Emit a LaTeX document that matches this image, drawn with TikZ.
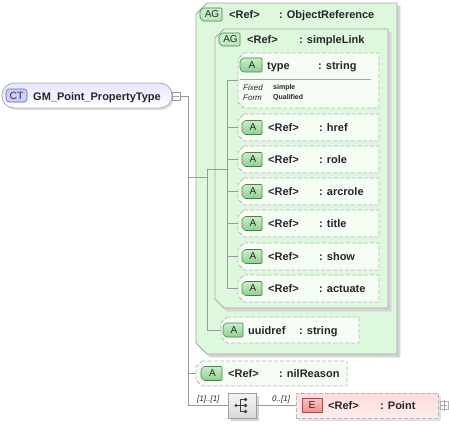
\documentclass[tikz,border=0pt]{standalone}
\usepackage{fontspec}
\setmainfont{Liberation Sans}
\usetikzlibrary{calc}
\definecolor{grpfill}{HTML}{DDF8DD}
\definecolor{grpdraw}{HTML}{A8A8A8}
\definecolor{shd}{HTML}{D4D4D4}
\definecolor{attfill}{HTML}{F4FCF4}
\definecolor{attdraw}{HTML}{B8B8B8}
\definecolor{atag1}{HTML}{C8F0C8}
\definecolor{atag2}{HTML}{90D090}
\definecolor{atagd}{HTML}{4E7E4E}
\definecolor{etag1}{HTML}{F8C0C0}
\definecolor{etag2}{HTML}{EC9090}
\definecolor{etagd}{HTML}{A05050}
\definecolor{conncol}{HTML}{9A9A9A}
\newcommand\chpath[6]{%
  \path[#6] ({#1+#5},#2) -- (#3,#2) -- (#3,#4) -- ({#1+#5},#4) -- (#1,{#4-#5}) -- (#1,{#2+#5}) -- cycle;}
\newcommand\chbox[7]{%
  \chpath{#2}{#3}{#4}{#5}{#6}{#7}%
  \node[inner sep=0pt,minimum width={(#4-#2)*1pt},minimum height={(#5-#3)*1pt}] (#1) at ({(#2+#4)/2},{(#3+#5)/2}) {};}
\newcommand\tagbox[7]{%
  \chpath{#2}{#3}{#4}{#5}{3}{#7,rounded corners=1pt}%
  \node[font=\fontsize{10}{11}\selectfont,inner sep=0pt,text=black!85] (#1) at ({(#2+#4)/2+1},{(#3+#5)/2}) {#6};}
\tikzset{
  grp/.style={fill=grpfill,draw=grpdraw,line width=0.8pt},
  grpshadow/.style={fill=shd,draw=shd,line width=0.8pt},
  att/.style={fill=attfill,draw=attdraw,dash pattern=on 4pt off 2pt,line width=0.8pt},
  atag/.style={top color=atag1,bottom color=atag2,draw=atagd,line width=0.6pt},
  agtag/.style={top color=atag1,bottom color=atag1!80!atag2,draw=atagd,line width=0.6pt},
  conn/.style={draw=conncol,line width=0.7pt},
  txt/.style={anchor=base west,inner sep=0pt,font=\fontsize{11}{13}\selectfont\bfseries,text=black!85},
  small/.style={anchor=base west,inner sep=0pt,text=black!85},
  card/.style={anchor=base west,inner sep=0pt,font=\fontsize{8}{9}\selectfont\itshape,text=black!85},
}
\begin{document}
\begin{tikzpicture}[x=1pt,y=-1pt]
\useasboundingbox (0,0) rectangle (449,423);
% ---------- outer group ObjectReference
\chpath{199}{6}{400}{357}{11}{grpshadow}
\chbox{outer}{196}{3}{397}{354}{11}{grp}
\tagbox{agouter}{200}{8}{222}{21}{AG}{agtag}
\node[txt] (outerref) at (229,18) {<Ref>};
\node[txt] (outername) at (279,18) {: ObjectReference};
% ---------- inner group simpleLink
\chpath{218}{32}{391}{311}{9}{grpshadow}
\chbox{inner}{215}{29}{388}{308}{9}{grp}
\tagbox{aginner}{219}{33}{240}{46}{AG}{agtag}
\node[txt] (innerref) at (247,43.5) {<Ref>};
\node[txt] (innername) at (299,43.5) {: simpleLink};
% ---------- connectors
\node[draw=conncol,fill=white,minimum size=8pt,inner sep=0pt,line width=0.6pt] (ctm) at (176,96) {};
\coordinate (sp0) at (188,96);
\coordinate (og) at (207,177);
\coordinate (os) at (207,169);
\coordinate (is) at (227,169);
\coordinate (itop) at (227,80.5);
% ---------- type attribute
\chbox{type}{238}{53}{379}{108}{6}{att}
\tagbox{atype}{240}{58}{262}{72}{A}{atag}
\node[txt] (typename) at (267,69) {type};
\node[txt] (typetype) at (318,69) {: string};
\draw[draw=gray!70,line width=0.6pt] (240,79) -- (371,79);
\node[small,font=\fontsize{8}{9}\selectfont\itshape] (fixed) at (243,90) {Fixed};
\node[small,font=\fontsize{8}{9}\selectfont\itshape] (form) at (243,100) {Form};
\node[small,font=\fontsize{7}{8}\selectfont\bfseries] (simple) at (273,89.5) {simple};
\node[small,font=\fontsize{7}{8}\selectfont\bfseries] (qual) at (273,99) {Qualified};
% ---------- attributes
\foreach \n/\y in {href/114,role/146,arcrole/178,title/210,show/243,actuate/275}{
  \chbox{\n}{238}{\y}{379}{\y+27}{6}{att}
  \tagbox{a\n}{242}{\y+6.5}{262}{\y+20.5}{A}{atag}
  \node[txt] (r\n) at (268,\y+17.5) {<Ref>};
  \node[txt] (t\n) at (319,\y+17.5) {: \n};
}
% ---------- uuidref
\chbox{uuid}{221}{317}{359}{343}{6}{att}
\tagbox{auuid}{223}{323}{243}{337}{A}{atag}
\node[txt] (uuidname) at (248,334) {uuidref};
\node[txt] (uuidtype) at (299,334) {: string};
% ---------- nilReason
\chbox{nil}{196}{361}{347}{386}{6}{att}
\tagbox{anil}{201}{366.5}{222}{380.5}{A}{atag}
\node[txt] (nilref) at (228,377.5) {<Ref>};
\node[txt] (nilname) at (279,377.5) {: nilReason};
% ---------- sequence compositor
\fill[shd] (230.5,395.5) rectangle (258.5,420.5);
\node[draw=gray!75,top color=gray!8,bottom color=gray!30,minimum width=28pt,minimum height=25pt,inner sep=0pt,line width=0.6pt] (seq) at (242,405.5) {};
\draw[black!75,line width=0.8pt] (236,405.5) -- (240,405.5) (240,399.5) -- (240,411.5)
  (240,399.5) -- (245,399.5) (240,405.5) -- (245,405.5) (240,411.5) -- (245,411.5);
\fill[black!75] (236,405.5) circle (1.6) (245.5,399.5) circle (1.8) (245.5,405.5) circle (1.8) (245.5,411.5) circle (1.8);
% ---------- element Point
\fill[shd!70] (298.5,395.5) rectangle (440.5,420.5);
\node[draw=gray!55,dash pattern=on 4pt off 2pt,top color=red!14,bottom color=red!7,minimum width=142pt,minimum height=25pt,inner sep=0pt,line width=0.8pt] (E) at (367,405.5) {};
\draw[etagd,line width=0.6pt,top color=etag1,bottom color=etag2] (302,398.5) rectangle (322,412.5);
\node[font=\fontsize{10}{11}\selectfont,inner sep=0pt,text=black!85] (etag) at (312,405.5) {E};
\node[txt] (eref) at (328,409.5) {<Ref>};
\node[txt] (ename) at (380,409.5) {: Point};
\node[draw=gray!60,fill=white,minimum size=8pt,inner sep=0pt,line width=0.5pt] (plus) at (444,405.5) {};
\draw[gray!70,line width=0.5pt] ($(plus.west)+(1.5,0)$) -- ($(plus.east)+(-1.5,0)$) ($(plus.north)+(0,-1.5)$) -- ($(plus.south)+(0,1.5)$);
% ---------- connector lines
\draw[conn] (ctm.east) -- (sp0) -- (sp0 |- seq.west) -- (seq.west);
\draw[conn] (sp0 |- nil.west) -- (nil.west);
\draw[conn] (sp0 |- og) -- (og);
\draw[conn] (os) -- (is);
\draw[conn] (os) |- (uuid.west);
\draw[conn] (itop) -- (itop |- actuate.west);
\foreach \n in {type,href,role,arcrole,title,show,actuate}{
  \draw[conn] (itop |- \n.west) -- (\n.west);
}
\draw[conn] (seq.east) -- (E.west);
\node[card] (c1) at (197,401) {[1]..[1]};
\node[card] (c2) at (272,401) {0..[1]};
% ---------- complex type
\fill[shd!70] (4,85) [rounded corners=12pt] rectangle (174,110);
\node[draw=gray!65,top color=blue!10,bottom color=white,rounded corners=12pt,minimum width=170pt,minimum height=25pt,inner sep=0pt,line width=0.8pt] (ct) at (87,95.5) {};
\draw[draw=blue!40!black!60,fill=blue!20,rounded corners=3pt,line width=0.6pt] (6,89) rectangle (27,102);
\node[font=\fontsize{10.5}{11}\selectfont,inner sep=0pt,text=black!80] (cttag) at (16.5,95.5) {CT};
\node[txt] (ctname) at (33,100) {GM\_Point\_PropertyType};
\node[draw=conncol,fill=white,minimum size=8pt,inner sep=0pt,line width=0.6pt] (ctm2) at (176,96) {};
\draw[gray!70,line width=0.5pt] ($(ctm2.west)+(1.5,0)$) -- ($(ctm2.east)+(-1.5,0)$);
\end{tikzpicture}
\end{document}
